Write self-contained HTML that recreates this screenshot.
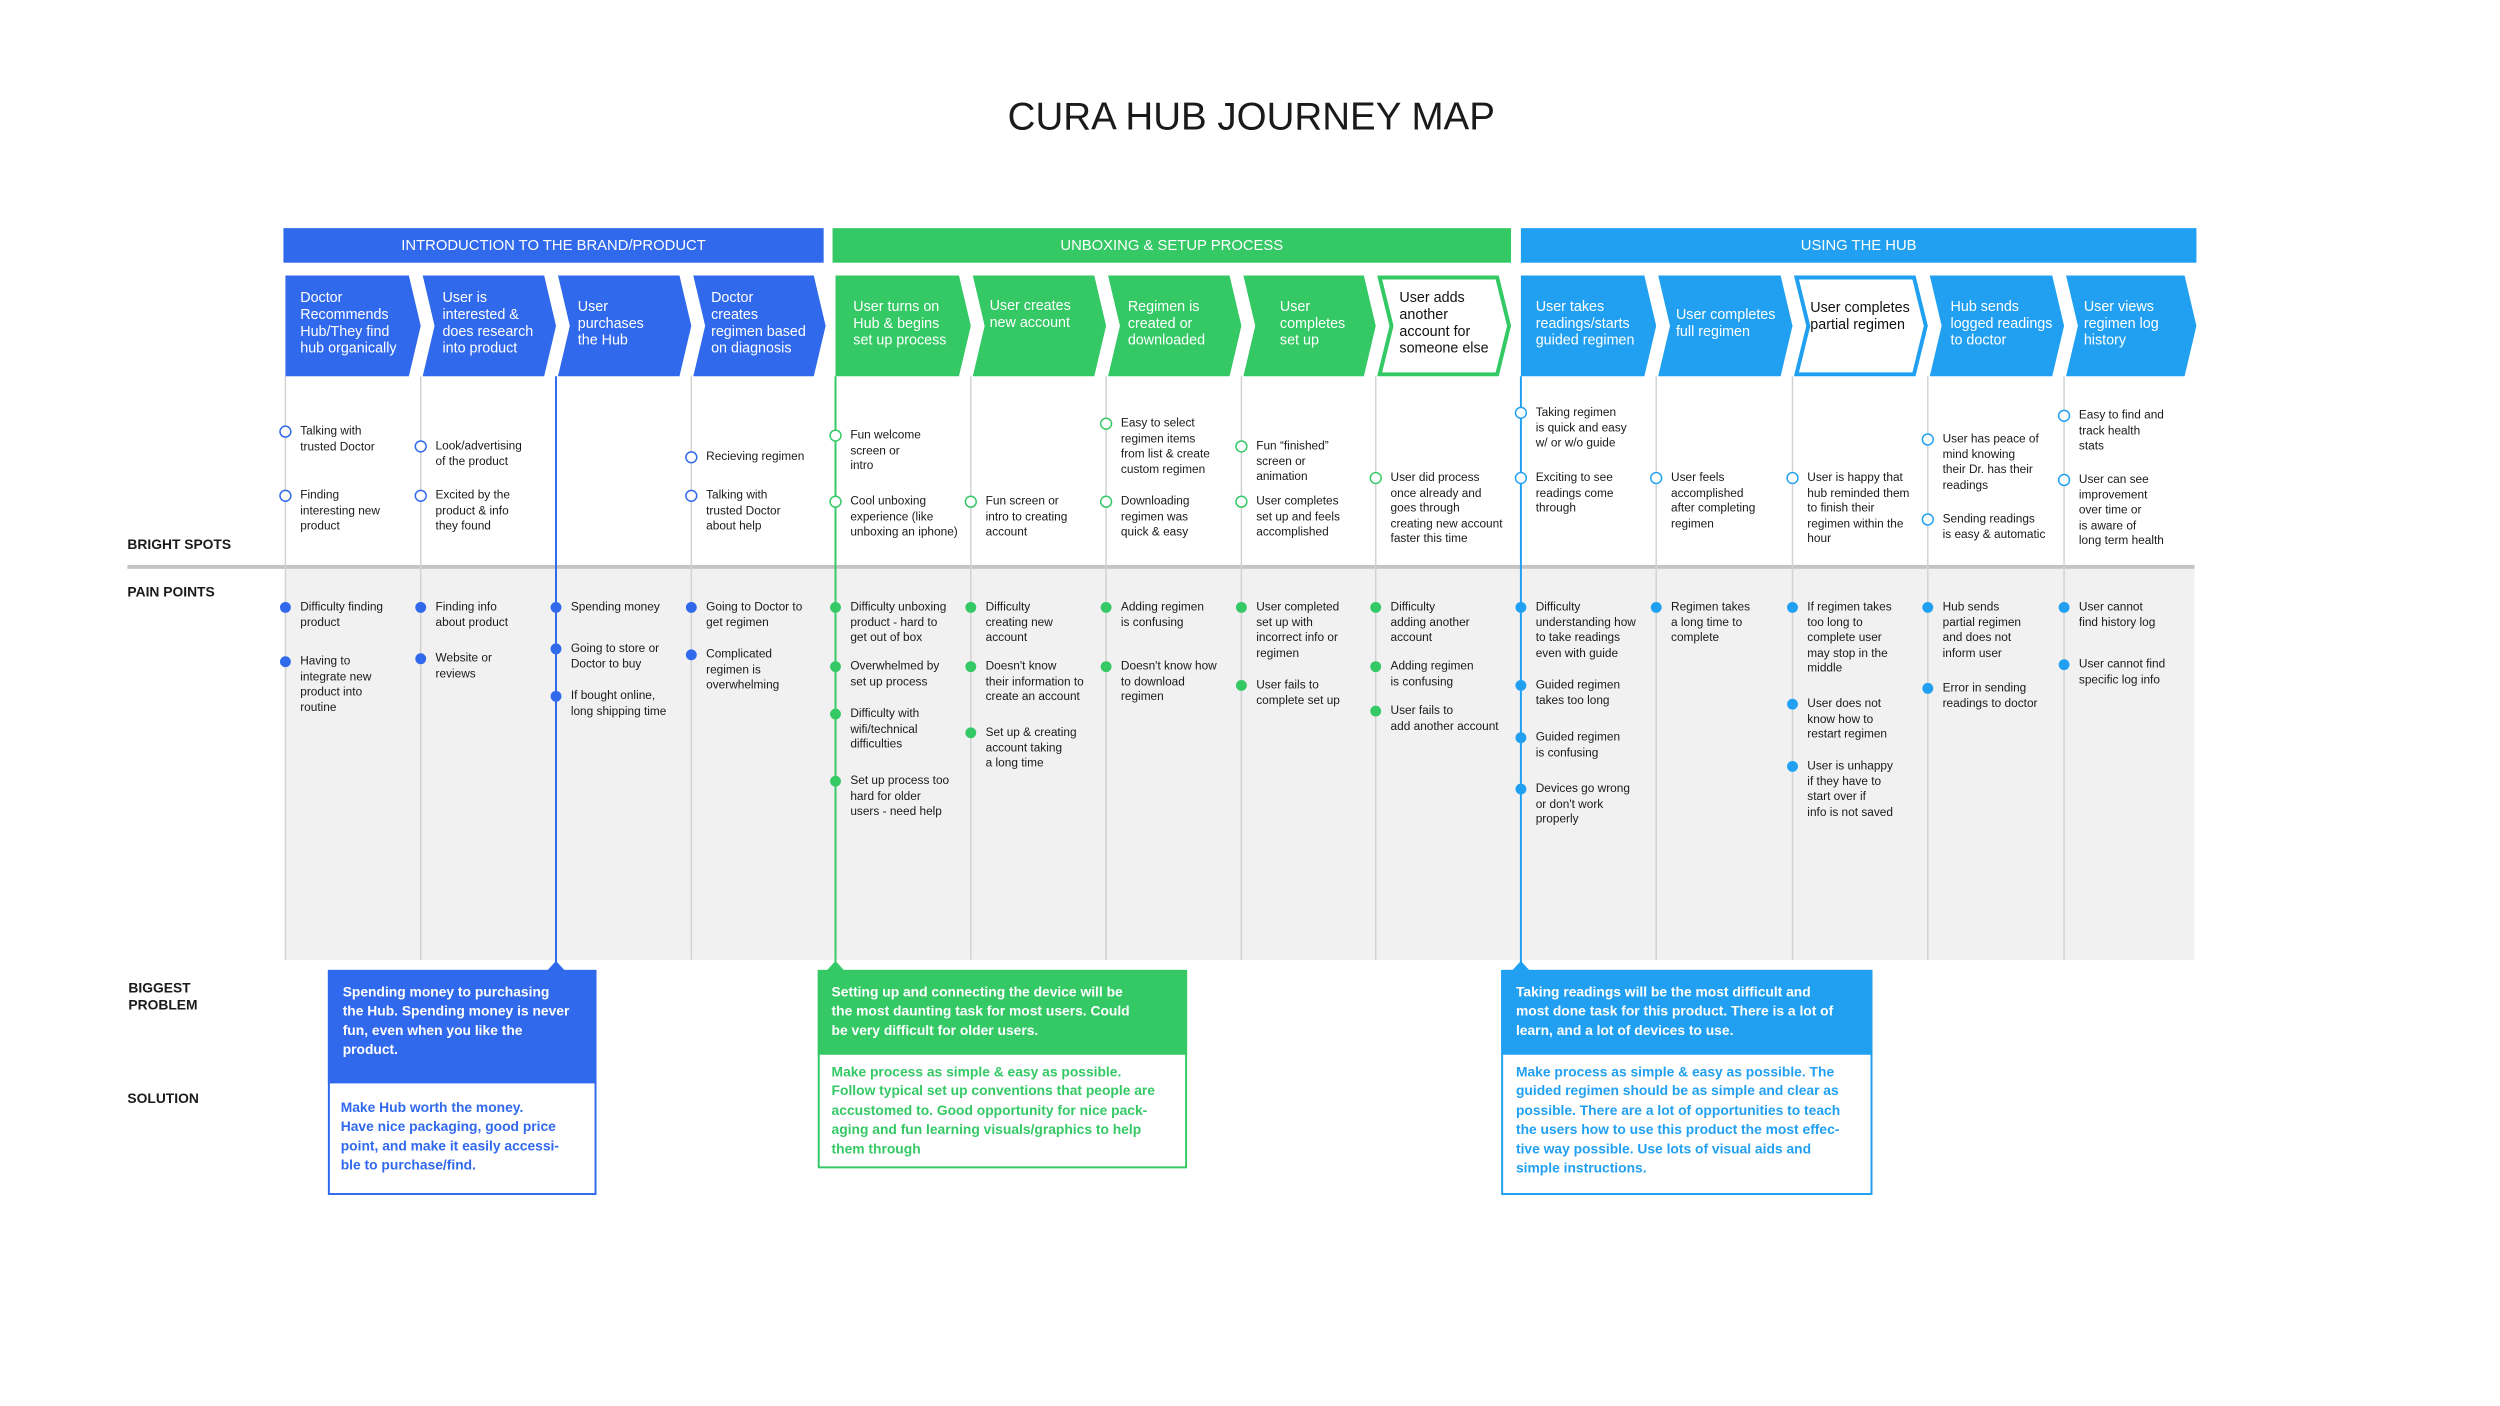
<!DOCTYPE html>
<html><head><meta charset="utf-8"><style>
*{margin:0;padding:0;box-sizing:border-box}
body{width:2500px;height:1406px;background:#fff;position:relative;overflow:hidden;font-family:"Liberation Sans",sans-serif;color:#1a1a1a}
#w{position:absolute;left:0;top:0;width:2532px;height:1424px;transform:scale(0.9876);transform-origin:0 0}
.a{position:absolute;white-space:nowrap}
.t{font-size:12px;line-height:15.6px}
.c{font-size:14.5px;line-height:17px;color:#fff;display:flex;align-items:center;height:102px;top:277px}
.h{font-size:15px;color:#fff;text-align:center;top:231px;height:35px;line-height:35px}
.lb{font-size:14px;font-weight:bold;line-height:17px}
.bx{font-size:14px;font-weight:bold;line-height:19.4px}
</style></head><body><div id="w">
<svg class="a" style="left:0;top:0" width="2532" height="1424">
<rect x="289" y="576" width="1933" height="396" fill="#f1f1f1"/>
<rect x="129" y="572" width="2093" height="4" fill="#c4c4c4"/>
<rect x="287" y="231" width="547" height="35" fill="#3169ec"/>
<rect x="843" y="231" width="687" height="35" fill="#34c965"/>
<rect x="1540" y="231" width="684" height="35" fill="#21a0f2"/>
<g stroke="#d2d2d2" stroke-width="1.5">
<line x1="289" y1="381" x2="289" y2="972"/><line x1="426" y1="381" x2="426" y2="972"/><line x1="700" y1="381" x2="700" y2="972"/>
<line x1="983" y1="381" x2="983" y2="972"/><line x1="1120" y1="381" x2="1120" y2="972"/><line x1="1257" y1="381" x2="1257" y2="972"/><line x1="1393" y1="381" x2="1393" y2="972"/>
<line x1="1677" y1="381" x2="1677" y2="972"/><line x1="1815" y1="381" x2="1815" y2="972"/><line x1="1952" y1="381" x2="1952" y2="972"/><line x1="2090" y1="381" x2="2090" y2="972"/>
</g>
<line x1="563" y1="381" x2="563" y2="976" stroke="#3169ec" stroke-width="2"/>
<line x1="846" y1="381" x2="846" y2="976" stroke="#34c965" stroke-width="2"/>
<line x1="1540" y1="381" x2="1540" y2="976" stroke="#21a0f2" stroke-width="2"/>
<g fill="#3169ec">
<polygon points="289,279 414,279 426,330 414,381 289,381"/>
<polygon points="428,279 551,279 563,330 551,381 428,381 440,330"/>
<polygon points="565,279 688,279 700,330 688,381 565,381 577,330"/>
<polygon points="702,279 824,279 836,330 824,381 702,381 714,330"/>
</g>
<g fill="#34c965">
<polygon points="846,279 971,279 983,330 971,381 846,381"/>
<polygon points="985,279 1108,279 1120,330 1108,381 985,381 997,330"/>
<polygon points="1122,279 1245,279 1257,330 1245,381 1122,381 1134,330"/>
<polygon points="1259,279 1381,279 1393,330 1381,381 1259,381 1271,330"/>
</g>
<polygon points="1397,281 1516,281 1528,330 1516,379 1397,379 1409,330" fill="#fff" stroke="#34c965" stroke-width="4"/>
<g fill="#21a0f2">
<polygon points="1540,279 1665,279 1677,330 1665,381 1540,381"/>
<polygon points="1679,279 1803,279 1815,330 1803,381 1679,381 1691,330"/>
<polygon points="1954,279 2078,279 2090,330 2078,381 1954,381 1966,330"/>
<polygon points="2092,279 2212,279 2224,330 2212,381 2092,381 2104,330"/>
</g>
<polygon points="1819,281 1938,281 1950,330 1938,379 1819,379 1831,330" fill="#fff" stroke="#21a0f2" stroke-width="4"/>
<g fill="#fff" stroke-width="1.5">
<g stroke="#3169ec">
<circle cx="289" cy="437" r="5.5"/><circle cx="289" cy="502" r="5.5"/>
<circle cx="426" cy="452" r="5.5"/><circle cx="426" cy="502" r="5.5"/>
<circle cx="700" cy="463" r="5.5"/><circle cx="700" cy="502" r="5.5"/>
</g>
<g stroke="#34c965">
<circle cx="846" cy="441" r="5.5"/><circle cx="846" cy="508" r="5.5"/>
<circle cx="983" cy="508" r="5.5"/>
<circle cx="1120" cy="429" r="5.5"/><circle cx="1120" cy="508" r="5.5"/>
<circle cx="1257" cy="452" r="5.5"/><circle cx="1257" cy="508" r="5.5"/>
<circle cx="1393" cy="484" r="5.5"/>
</g>
<g stroke="#21a0f2">
<circle cx="1540" cy="418" r="5.5"/><circle cx="1540" cy="484" r="5.5"/>
<circle cx="1677" cy="484" r="5.5"/>
<circle cx="1815" cy="484" r="5.5"/>
<circle cx="1952" cy="445" r="5.5"/><circle cx="1952" cy="526" r="5.5"/>
<circle cx="2090" cy="421" r="5.5"/><circle cx="2090" cy="486" r="5.5"/>
</g>
</g>
<g fill="#3169ec">
<circle cx="289" cy="615" r="5.5"/><circle cx="289" cy="670" r="5.5"/>
<circle cx="426" cy="615" r="5.5"/><circle cx="426" cy="667" r="5.5"/>
<circle cx="563" cy="615" r="5.5"/><circle cx="563" cy="657" r="5.5"/><circle cx="563" cy="705" r="5.5"/>
<circle cx="700" cy="615" r="5.5"/><circle cx="700" cy="663" r="5.5"/>
</g>
<g fill="#34c965">
<circle cx="846" cy="615" r="5.5"/><circle cx="846" cy="675" r="5.5"/><circle cx="846" cy="723" r="5.5"/><circle cx="846" cy="791" r="5.5"/>
<circle cx="983" cy="615" r="5.5"/><circle cx="983" cy="675" r="5.5"/><circle cx="983" cy="742" r="5.5"/>
<circle cx="1120" cy="615" r="5.5"/><circle cx="1120" cy="675" r="5.5"/>
<circle cx="1257" cy="615" r="5.5"/><circle cx="1257" cy="694" r="5.5"/>
<circle cx="1393" cy="615" r="5.5"/><circle cx="1393" cy="675" r="5.5"/><circle cx="1393" cy="720" r="5.5"/>
</g>
<g fill="#21a0f2">
<circle cx="1540" cy="615" r="5.5"/><circle cx="1540" cy="694" r="5.5"/><circle cx="1540" cy="747" r="5.5"/><circle cx="1540" cy="799" r="5.5"/>
<circle cx="1677" cy="615" r="5.5"/>
<circle cx="1815" cy="615" r="5.5"/><circle cx="1815" cy="713" r="5.5"/><circle cx="1815" cy="776" r="5.5"/>
<circle cx="1952" cy="615" r="5.5"/><circle cx="1952" cy="697" r="5.5"/>
<circle cx="2090" cy="615" r="5.5"/><circle cx="2090" cy="673" r="5.5"/>
</g>
<polygon points="553,984 563,973 573,984" fill="#3169ec"/>
<rect x="333" y="983" width="270" height="226" fill="#fff" stroke="#3169ec" stroke-width="2"/>
<rect x="332" y="983" width="272" height="114" fill="#3169ec"/>
<polygon points="836,984 846,973 856,984" fill="#34c965"/>
<rect x="829" y="983" width="372" height="199" fill="#fff" stroke="#34c965" stroke-width="2"/>
<rect x="828" y="983" width="374" height="85" fill="#34c965"/>
<polygon points="1530,984 1540,973 1550,984" fill="#21a0f2"/>
<rect x="1521" y="983" width="374" height="226" fill="#fff" stroke="#21a0f2" stroke-width="2"/>
<rect x="1520" y="983" width="376" height="85" fill="#21a0f2"/>
</svg>

<div class="a" style="left:0;width:2534px;top:95px;text-align:center;font-size:39px;line-height:48px">CURA HUB JOURNEY MAP</div>

<div class="a h" style="left:287px;width:547px">INTRODUCTION TO THE BRAND/PRODUCT</div>
<div class="a h" style="left:843px;width:687px">UNBOXING &amp; SETUP PROCESS</div>
<div class="a h" style="left:1540px;width:684px">USING THE HUB</div>

<div class="a c" style="left:304px">Doctor<br>Recommends<br>Hub/They find<br>hub organically</div>
<div class="a c" style="left:448px">User is<br>interested &amp;<br>does research<br>into product</div>
<div class="a c" style="left:585px">User<br>purchases<br>the Hub</div>
<div class="a c" style="left:720px">Doctor<br>creates<br>regimen based<br>on diagnosis</div>
<div class="a c" style="left:864px">User turns on<br>Hub &amp; begins<br>set up process</div>
<div class="a c" style="left:1002px;top:268px">User creates<br>new account</div>
<div class="a c" style="left:1142px">Regimen is<br>created or<br>downloaded</div>
<div class="a c" style="left:1296px">User<br>completes<br>set up</div>
<div class="a c" style="left:1417px;color:#111">User adds<br>another<br>account for<br>someone else</div>
<div class="a c" style="left:1555px">User takes<br>readings/starts<br>guided regimen</div>
<div class="a c" style="left:1697px">User completes<br>full regimen</div>
<div class="a c" style="left:1833px;color:#111;top:270px">User completes<br>partial regimen</div>
<div class="a c" style="left:1975px">Hub sends<br>logged readings<br>to doctor</div>
<div class="a c" style="left:2110px">User views<br>regimen log<br>history</div>

<div class="a lb" style="left:129px;top:543px">BRIGHT SPOTS</div>
<div class="a lb" style="left:129px;top:591px">PAIN POINTS</div>
<div class="a lb" style="left:130px;top:992px">BIGGEST<br>PROBLEM</div>
<div class="a lb" style="left:129px;top:1104px">SOLUTION</div>

<div class="a t" style="left:304px;top:429px">Talking with<br>trusted Doctor</div>
<div class="a t" style="left:304px;top:494px">Finding<br>interesting new<br>product</div>
<div class="a t" style="left:441px;top:444px">Look/advertising<br>of the product</div>
<div class="a t" style="left:441px;top:494px">Excited by the<br>product &amp; info<br>they found</div>
<div class="a t" style="left:715px;top:455px">Recieving regimen</div>
<div class="a t" style="left:715px;top:494px">Talking with<br>trusted Doctor<br>about help</div>
<div class="a t" style="left:861px;top:433px">Fun welcome<br>screen or<br>intro</div>
<div class="a t" style="left:861px;top:500px">Cool unboxing<br>experience (like<br>unboxing an iphone)</div>
<div class="a t" style="left:998px;top:500px">Fun screen or<br>intro to creating<br>account</div>
<div class="a t" style="left:1135px;top:421px">Easy to select<br>regimen items<br>from list &amp; create<br>custom regimen</div>
<div class="a t" style="left:1135px;top:500px">Downloading<br>regimen was<br>quick &amp; easy</div>
<div class="a t" style="left:1272px;top:444px">Fun “finished”<br>screen or<br>animation</div>
<div class="a t" style="left:1272px;top:500px">User completes<br>set up and feels<br>accomplished</div>
<div class="a t" style="left:1408px;top:476px">User did process<br>once already and<br>goes through<br>creating new account<br>faster this time</div>
<div class="a t" style="left:1555px;top:410px">Taking regimen<br>is quick and easy<br>w/ or w/o guide</div>
<div class="a t" style="left:1555px;top:476px">Exciting to see<br>readings come<br>through</div>
<div class="a t" style="left:1692px;top:476px">User feels<br>accomplished<br>after completing<br>regimen</div>
<div class="a t" style="left:1830px;top:476px">User is happy that<br>hub reminded them<br>to finish their<br>regimen within the<br>hour</div>
<div class="a t" style="left:1967px;top:437px">User has peace of<br>mind knowing<br>their Dr. has their<br>readings</div>
<div class="a t" style="left:1967px;top:518px">Sending readings<br>is easy &amp; automatic</div>
<div class="a t" style="left:2105px;top:413px">Easy to find and<br>track health<br>stats</div>
<div class="a t" style="left:2105px;top:478px">User can see<br>improvement<br>over time or<br>is aware of<br>long term health</div>

<div class="a t" style="left:304px;top:607px">Difficulty finding<br>product</div>
<div class="a t" style="left:304px;top:662px">Having to<br>integrate new<br>product into<br>routine</div>
<div class="a t" style="left:441px;top:607px">Finding info<br>about product</div>
<div class="a t" style="left:441px;top:659px">Website or<br>reviews</div>
<div class="a t" style="left:578px;top:607px">Spending money</div>
<div class="a t" style="left:578px;top:649px">Going to store or<br>Doctor to buy</div>
<div class="a t" style="left:578px;top:697px">If bought online,<br>long shipping time</div>
<div class="a t" style="left:715px;top:607px">Going to Doctor to<br>get regimen</div>
<div class="a t" style="left:715px;top:655px">Complicated<br>regimen is<br>overwhelming</div>
<div class="a t" style="left:861px;top:607px">Difficulty unboxing<br>product - hard to<br>get out of box</div>
<div class="a t" style="left:861px;top:667px">Overwhelmed by<br>set up process</div>
<div class="a t" style="left:861px;top:715px">Difficulty with<br>wifi/technical<br>difficulties</div>
<div class="a t" style="left:861px;top:783px">Set up process too<br>hard for older<br>users - need help</div>
<div class="a t" style="left:998px;top:607px">Difficulty<br>creating new<br>account</div>
<div class="a t" style="left:998px;top:667px">Doesn't know<br>their information to<br>create an account</div>
<div class="a t" style="left:998px;top:734px">Set up &amp; creating<br>account taking<br>a long time</div>
<div class="a t" style="left:1135px;top:607px">Adding regimen<br>is confusing</div>
<div class="a t" style="left:1135px;top:667px">Doesn't know how<br>to download<br>regimen</div>
<div class="a t" style="left:1272px;top:607px">User completed<br>set up with<br>incorrect info or<br>regimen</div>
<div class="a t" style="left:1272px;top:686px">User fails to<br>complete set up</div>
<div class="a t" style="left:1408px;top:607px">Difficulty<br>adding another<br>account</div>
<div class="a t" style="left:1408px;top:667px">Adding regimen<br>is confusing</div>
<div class="a t" style="left:1408px;top:712px">User fails to<br>add another account</div>
<div class="a t" style="left:1555px;top:607px">Difficulty<br>understanding how<br>to take readings<br>even with guide</div>
<div class="a t" style="left:1555px;top:686px">Guided regimen<br>takes too long</div>
<div class="a t" style="left:1555px;top:739px">Guided regimen<br>is confusing</div>
<div class="a t" style="left:1555px;top:791px">Devices go wrong<br>or don't work<br>properly</div>
<div class="a t" style="left:1692px;top:607px">Regimen takes<br>a long time to<br>complete</div>
<div class="a t" style="left:1830px;top:607px">If regimen takes<br>too long to<br>complete user<br>may stop in the<br>middle</div>
<div class="a t" style="left:1830px;top:705px">User does not<br>know how to<br>restart regimen</div>
<div class="a t" style="left:1830px;top:768px">User is unhappy<br>if they have to<br>start over if<br>info is not saved</div>
<div class="a t" style="left:1967px;top:607px">Hub sends<br>partial regimen<br>and does not<br>inform user</div>
<div class="a t" style="left:1967px;top:689px">Error in sending<br>readings to doctor</div>
<div class="a t" style="left:2105px;top:607px">User cannot<br>find history log</div>
<div class="a t" style="left:2105px;top:665px">User cannot find<br>specific log info</div>

<div class="a bx" style="left:347px;top:995px;color:#fff">Spending money to purchasing<br>the Hub. Spending money is never<br>fun, even when you like the<br>product.</div>
<div class="a bx" style="left:345px;top:1112px;color:#3169ec">Make Hub worth the money.<br>Have nice packaging, good price<br>point, and make it easily accessi-<br>ble to purchase/find.</div>
<div class="a bx" style="left:842px;top:995px;color:#fff">Setting up and connecting the device will be<br>the most daunting task for most users. Could<br>be very difficult for older users.</div>
<div class="a bx" style="left:842px;top:1076px;color:#34c965">Make process as simple &amp; easy as possible.<br>Follow typical set up conventions that people are<br>accustomed to. Good opportunity for nice pack-<br>aging and fun learning visuals/graphics to help<br>them through</div>
<div class="a bx" style="left:1535px;top:995px;color:#fff">Taking readings will be the most difficult and<br>most done task for this product. There is a lot of<br>learn, and a lot of devices to use.</div>
<div class="a bx" style="left:1535px;top:1076px;color:#21a0f2">Make process as simple &amp; easy as possible. The<br>guided regimen should be as simple and clear as<br>possible. There are a lot of opportunities to teach<br>the users how to use this product the most effec-<br>tive way possible. Use lots of visual aids and<br>simple instructions.</div>
</div></body></html>
